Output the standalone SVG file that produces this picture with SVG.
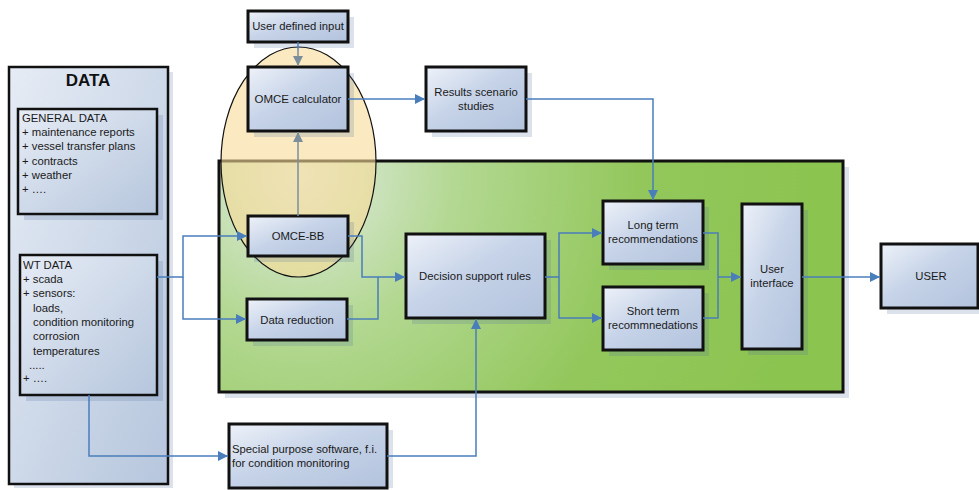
<svg xmlns="http://www.w3.org/2000/svg" width="979" height="490" viewBox="0 0 979 490">
<defs>
<linearGradient id="box" x1="0" y1="0" x2="1" y2="1">
<stop offset="0" stop-color="#eef2f9"/>
<stop offset="0.45" stop-color="#c6d3e8"/>
<stop offset="1" stop-color="#b3c3dd"/>
</linearGradient>
<linearGradient id="data" x1="0" y1="0" x2="1" y2="1">
<stop offset="0" stop-color="#e6ecf5"/>
<stop offset="1" stop-color="#b6c6dd"/>
</linearGradient>
<radialGradient id="green" gradientUnits="userSpaceOnUse" cx="300" cy="175" r="520">
<stop offset="0" stop-color="#e2ebe3"/>
<stop offset="0.3" stop-color="#b3d892"/>
<stop offset="0.65" stop-color="#93c75c"/>
<stop offset="1" stop-color="#8cc450"/>
</radialGradient>
<marker id="ab" viewBox="0 0 10 10" refX="10" refY="5" markerWidth="10" markerHeight="10" markerUnits="userSpaceOnUse" orient="auto">
<path d="M0,0 L10,5 L0,10 Z" fill="#4a7ebb"/>
</marker>
<marker id="ag" viewBox="0 0 10 10" refX="10" refY="5" markerWidth="10" markerHeight="10" markerUnits="userSpaceOnUse" orient="auto">
<path d="M0,0 L10,5 L0,10 Z" fill="#7c8e9c"/>
</marker>
</defs>
<style>
.b{fill:url(#box);stroke:#111;stroke-width:3}
.sh{fill:#4f6f9f;opacity:0.2}
.t{font-family:"Liberation Sans",Arial,sans-serif;font-size:11.3px;fill:#1a1a1a;text-anchor:middle}
.l{font-family:"Liberation Sans",Arial,sans-serif;font-size:11.3px;fill:#1a1a1a}
.c{fill:none;stroke:#4a7ebb;stroke-width:1.5}
.g{fill:none;stroke:#7c8e9c;stroke-width:1.5}
</style>

<g id="data-box">
<rect x="14" y="72" width="159" height="416" class="sh"/>
<rect x="9" y="67" width="159" height="417" fill="url(#data)" stroke="#111" stroke-width="2.5"/>
<text x="88" y="86" font-family="Liberation Sans,Arial,sans-serif" font-size="17" font-weight="bold" text-anchor="middle" fill="#111">DATA</text>
</g>

<g id="general-data">
<rect x="24" y="115" width="139" height="105" class="sh"/>
<rect x="18" y="109" width="139" height="105" fill="url(#data)" stroke="#111" stroke-width="2.5"/>
<text class="l" x="22" y="122">GENERAL DATA</text>
<text class="l" x="22" y="136">+ maintenance reports</text>
<text class="l" x="22" y="150">+ vessel transfer plans</text>
<text class="l" x="22" y="165">+ contracts</text>
<text class="l" x="22" y="179">+ weather</text>
<text class="l" x="22" y="193">+ ….</text>
</g>

<g id="wt-data">
<rect x="26" y="261" width="137" height="140" class="sh"/>
<rect x="20" y="255" width="137" height="140" fill="url(#data)" stroke="#111" stroke-width="2.5"/>
<text class="l" x="23" y="269">WT DATA</text>
<text class="l" x="23" y="283">+ scada</text>
<text class="l" x="23" y="297">+ sensors:</text>
<text class="l" x="33" y="312">loads,</text>
<text class="l" x="33" y="326">condition monitoring</text>
<text class="l" x="33" y="340">corrosion</text>
<text class="l" x="33" y="355">temperatures</text>
<text class="l" x="29" y="369">.....</text>
<text class="l" x="23" y="382">+ ….</text>
</g>

<g id="green-area">
<rect x="225" y="167" width="624" height="231" class="sh"/>
<rect x="219" y="161" width="624" height="231" fill="url(#green)" stroke="#111" stroke-width="3"/>
</g>

<g id="omce-ellipse">
<ellipse cx="298.5" cy="162" rx="77.5" ry="115" fill="#f9dc98" fill-opacity="0.6" stroke="#111" stroke-width="1.2"/>
</g>

<g id="user-defined-input">
<rect x="254" y="17" width="100" height="31" class="sh"/>
<rect x="248" y="11" width="100" height="31" class="b"/>
<text class="t" x="298" y="30">User defined input</text>
</g>

<g id="omce-calculator">
<rect x="254" y="73" width="100" height="64" class="sh"/>
<rect x="248" y="67" width="100" height="64" class="b"/>
<text class="t" x="298" y="103" style="font-size:11.5px">OMCE calculator</text>
</g>

<g id="omce-bb">
<rect x="254" y="222" width="100" height="40" class="sh"/>
<rect x="248" y="216" width="100" height="40" class="b"/>
<text class="t" x="298" y="240">OMCE-BB</text>
</g>

<g id="data-reduction">
<rect x="253" y="305" width="100" height="41" class="sh"/>
<rect x="247" y="299" width="100" height="41" class="b"/>
<text class="t" x="297" y="324">Data reduction</text>
</g>

<g id="results-scenario">
<rect x="432" y="73" width="100" height="64" class="sh"/>
<rect x="426" y="67" width="100" height="64" class="b"/>
<text class="t" x="476" y="96">Results scenario</text>
<text class="t" x="476" y="110">studies</text>
</g>

<g id="decision-support">
<rect x="412" y="240" width="139" height="84" class="sh"/>
<rect x="406" y="234" width="139" height="84" class="b"/>
<text class="t" x="475" y="280">Decision support rules</text>
</g>

<g id="long-term">
<rect x="609" y="207" width="100" height="63" class="sh"/>
<rect x="603" y="201" width="100" height="63" class="b"/>
<text class="t" x="653" y="229">Long term</text>
<text class="t" x="653" y="243">recommendations</text>
</g>

<g id="short-term">
<rect x="609" y="293" width="100" height="63" class="sh"/>
<rect x="603" y="287" width="100" height="63" class="b"/>
<text class="t" x="653" y="315">Short term</text>
<text class="t" x="653" y="329">recommnedations</text>
</g>

<g id="user-interface">
<rect x="748" y="210" width="60" height="145" class="sh"/>
<rect x="742" y="204" width="60" height="145" class="b"/>
<text class="t" x="772" y="273">User</text>
<text class="t" x="772" y="287">interface</text>
</g>

<g id="user">
<rect x="887" y="250" width="97" height="64" class="sh"/>
<rect x="881" y="244" width="97" height="64" class="b"/>
<text class="t" x="931" y="280">USER</text>
</g>

<g id="special-software">
<rect x="235" y="430" width="158" height="58" class="sh"/>
<rect x="229" y="424" width="158" height="64" class="b"/>
<text class="l" x="232" y="453">Special purpose software, f.i.</text>
<text class="l" x="232" y="467">for condition monitoring</text>
</g>

<g id="connectors">
<path class="c" d="M298,42 V50"/>
<path class="g" d="M298,50 V66" marker-end="url(#ag)"/>
<path class="g" d="M298,216 V132" marker-end="url(#ag)"/>
<path class="c" d="M348,99 H425" marker-end="url(#ab)"/>
<path class="c" d="M526,99 H653 V200" marker-end="url(#ab)"/>
<path class="c" d="M157,277 H183 V236 H247" marker-end="url(#ab)"/>
<path class="c" d="M183,277 V319 H246" marker-end="url(#ab)"/>
<path class="c" d="M348,236 H362 V277 H405" marker-end="url(#ab)"/>
<path class="c" d="M347,319 H378 V277"/>
<path class="c" d="M89,395 V456 H228" marker-end="url(#ab)"/>
<path class="c" d="M387,456 H476 V319" marker-end="url(#ab)"/>
<path class="c" d="M545,277 H559 V233 H602" marker-end="url(#ab)"/>
<path class="c" d="M559,277 V318 H602" marker-end="url(#ab)"/>
<path class="c" d="M703,233 H718 V318 H703"/>
<path class="c" d="M718,277 H741" marker-end="url(#ab)"/>
<path class="c" d="M802,277 H880" marker-end="url(#ab)"/>
</g>
</svg>
